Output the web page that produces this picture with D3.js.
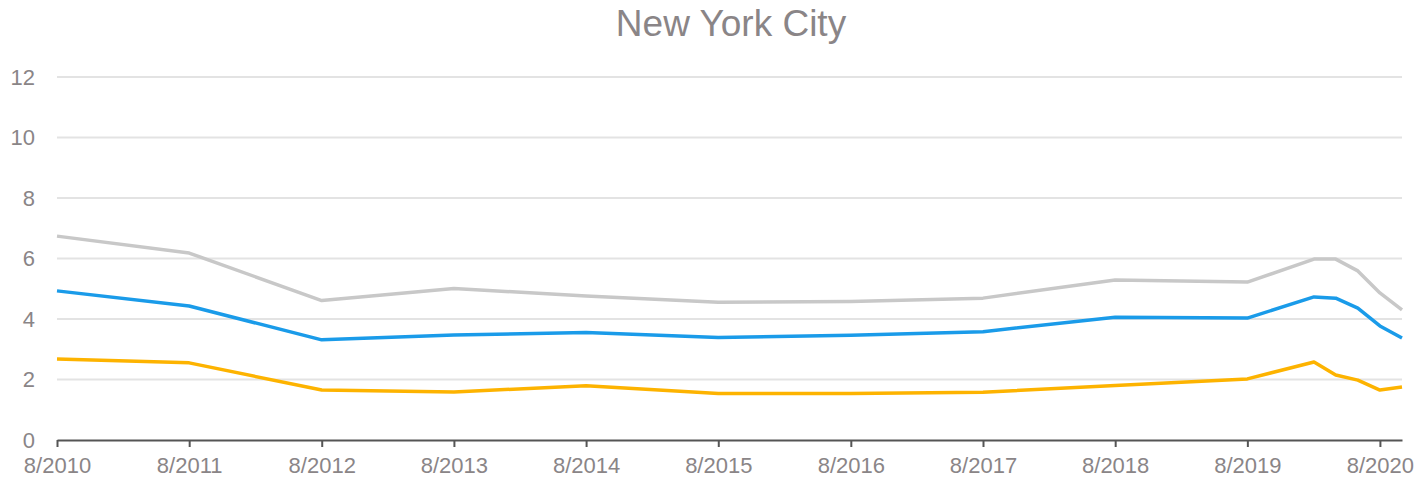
<!DOCTYPE html>
<html>
<head>
<meta charset="utf-8">
<script src="https://cdn.jsdelivr.net/npm/d3@7"></script>
<style>
  body { margin: 0; background: #fff; }
  text { font-family: "Liberation Sans", Arial, sans-serif; }
</style>
</head>
<body>
<script>
var title = "New York City";

var dates = ["2010-08", "2011-08", "2012-08", "2013-08", "2014-08", "2015-08", "2016-08",
             "2017-08", "2018-08", "2019-08", "2020-02", "2020-04", "2020-06", "2020-08", "2020-10"];

var upperValues  = [6.74, 6.18, 4.61, 5.01, 4.76, 4.55, 4.58, 4.69, 5.29, 5.22, 5.98, 5.98, 5.59, 4.86, 4.30];
var middleValues = [4.93, 4.43, 3.31, 3.47, 3.55, 3.39, 3.46, 3.58, 4.06, 4.03, 4.73, 4.69, 4.36, 3.77, 3.37];
var lowerValues  = [2.68, 2.55, 1.65, 1.59, 1.79, 1.54, 1.54, 1.58, 1.80, 2.02, 2.58, 2.15, 1.98, 1.65, 1.75];

var xTickLabels = ["8/2010", "8/2011", "8/2012", "8/2013", "8/2014", "8/2015",
                   "8/2016", "8/2017", "8/2018", "8/2019", "8/2020"];
var yTicks = [0, 2, 4, 6, 8, 10, 12];

var width = 1415, height = 480;
var parse = d3.timeParse("%Y-%m");
var parseTick = d3.timeParse("%m/%Y");

var svg = d3.select("body").append("svg").attr("width", width).attr("height", height);

var x = d3.scaleTime()
    .domain([parse(dates[0]), parse(dates[dates.length - 1])])
    .range([57, 1402]);
var y = d3.scaleLinear().domain([0, 12]).range([440, 77]);

svg.append("text")
    .attr("x", 731).attr("y", 36)
    .attr("text-anchor", "middle")
    .attr("font-size", 37)
    .attr("fill", "#8a8587")
    .text(title);

// gridlines
svg.append("g").selectAll("line")
    .data(yTicks.filter(function(d){ return d > 0; }))
    .enter().append("line")
    .attr("x1", 57).attr("x2", 1402)
    .attr("y1", function(d){ return y(d); })
    .attr("y2", function(d){ return y(d); })
    .attr("stroke", "#e3e3e3")
    .attr("stroke-width", 2);

var yAxis = svg.append("g")
    .attr("transform", "translate(57,0)")
    .call(d3.axisLeft(y).tickValues(yTicks).tickSize(0).tickPadding(22));
yAxis.select(".domain").remove();
yAxis.selectAll("text").attr("font-size", 22).attr("fill", "#8a8587")
    .attr("font-family", "Liberation Sans, Arial, sans-serif");

var xAxis = svg.append("g")
    .attr("transform", "translate(0,440)")
    .call(d3.axisBottom(x)
        .tickValues(xTickLabels.map(function(s){ return parseTick(s); }))
        .tickFormat(d3.timeFormat("%-m/%Y"))
        .tickSizeInner(7).tickSizeOuter(0).tickPadding(10));
xAxis.select(".domain").attr("stroke", "#555").attr("stroke-width", 2);
xAxis.selectAll(".tick line").attr("stroke", "#555").attr("stroke-width", 2);
xAxis.selectAll("text").attr("font-size", 22).attr("fill", "#8a8587")
    .attr("font-family", "Liberation Sans, Arial, sans-serif");

var line = d3.line()
    .x(function(d, i){ return x(parse(dates[i])); })
    .y(function(d){ return y(d); });

var series = [
  { values: upperValues,  color: "#c8c8c8" },
  { values: middleValues, color: "#1a9be9" },
  { values: lowerValues,  color: "#fdb300" }
];

svg.append("g").selectAll("path")
    .data(series)
    .enter().append("path")
    .attr("d", function(s){ return line(s.values); })
    .attr("fill", "none")
    .attr("stroke", function(s){ return s.color; })
    .attr("stroke-width", 3.5)
    .attr("stroke-linejoin", "round");
</script>
</body>
</html>
